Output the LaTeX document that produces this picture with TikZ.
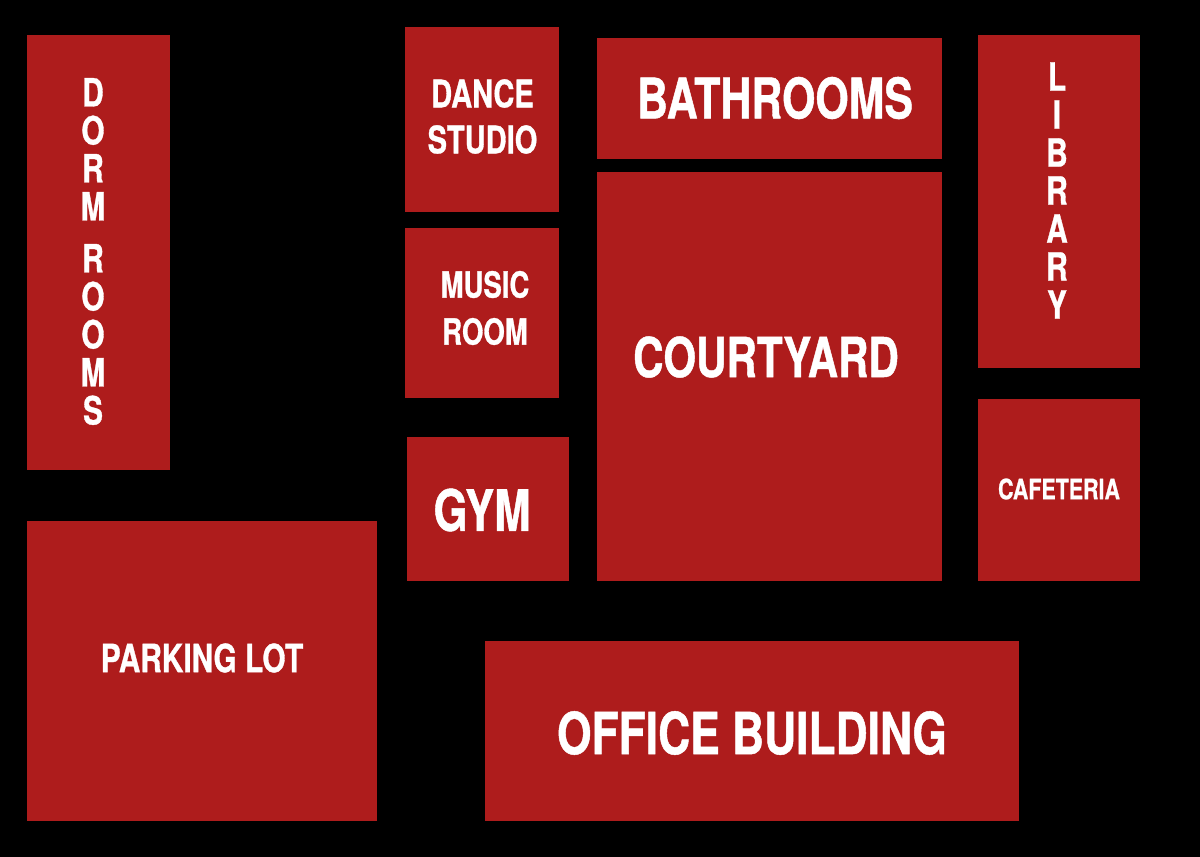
\documentclass[tikz,border=0pt]{standalone}
\usepackage{fontspec}
\newfontfamily\mapfont[FakeStretch=0.765, FakeBold=0.8]{TeX Gyre Heros}
\definecolor{mapred}{RGB}{174,28,28}
\usetikzlibrary{positioning}

\tikzset{
  building/.style={fill=mapred, draw=none, inner sep=0pt},
  tag/.style={text=white, inner sep=0pt, align=center},
}
\newcommand{\tagsize}[2]{\mapfont\bfseries\fontsize{#1}{#2}\selectfont}

\begin{document}
\begin{tikzpicture}[x=1pt, y=-1pt]
    % background
    \fill[black] (0,0) rectangle (1200,857);
    \useasboundingbox (0,0) rectangle (1200,857);

    % left column
    \node[building, minimum width=143pt, minimum height=435pt] (dorm) at (98.5,252.5) {};
    \node[tag, font=\tagsize{39}{38}] (dorm-lbl) at (93,251.5) {D\\O\\R\\M\\[14pt]R\\O\\O\\M\\S};
    \node[building, minimum width=350pt, minimum height=300pt] (parking) at (202,671) {};
    \node[tag, font=\tagsize{39}{46}] (parking-lbl) at (202,658) {PARKING LOT};

    % middle column
    \node[building, minimum width=154pt, minimum height=185pt] (dance) at (482,119.5) {};
    \node[tag, font=\tagsize{38}{46}] (dance-lbl) at (482.5,116.5) {DANCE\\STUDIO};
    \node[building, minimum width=154pt, minimum height=170pt] (music) at (482,313) {};
    \node[tag, font=\tagsize{36}{47}] (music-lbl) at (485,308) {MUSIC\\ROOM};
    \node[building, minimum width=162pt, minimum height=144pt] (gym) at (488,509) {};
    \node[tag, font=\tagsize{57}{60}] (gym-lbl) at (482,510) {GYM};

    % centre
    \node[building, minimum width=345pt, minimum height=121pt] (bath) at (769.5,98.5) {};
    \node[tag, font=\tagsize{56}{60}] (bath-lbl) at (775,98) {BATHROOMS};
    \node[building, minimum width=345pt, minimum height=409pt] (court) at (769.5,376.5) {};
    \node[tag, font=\tagsize{55}{60}] (court-lbl) at (766,357) {COURTYARD};
    \node[building, minimum width=534pt, minimum height=180pt] (office) at (752,731) {};
    \node[tag, font=\tagsize{58}{60}] (office-lbl) at (752,733) {OFFICE BUILDING};

    % right column
    \node[building, minimum width=162pt, minimum height=333pt] (library) at (1059,201.5) {};
    \node[tag, font=\tagsize{39}{38}] (library-lbl) at (1057,190.5) {L\\I\\B\\R\\A\\R\\Y};
    \node[building, minimum width=162pt, minimum height=182pt] (cafe) at (1059,490) {};
    \node[tag, font=\tagsize{28}{32}] (cafe-lbl) at (1059,489) {CAFETERIA};
\end{tikzpicture}
\end{document}
